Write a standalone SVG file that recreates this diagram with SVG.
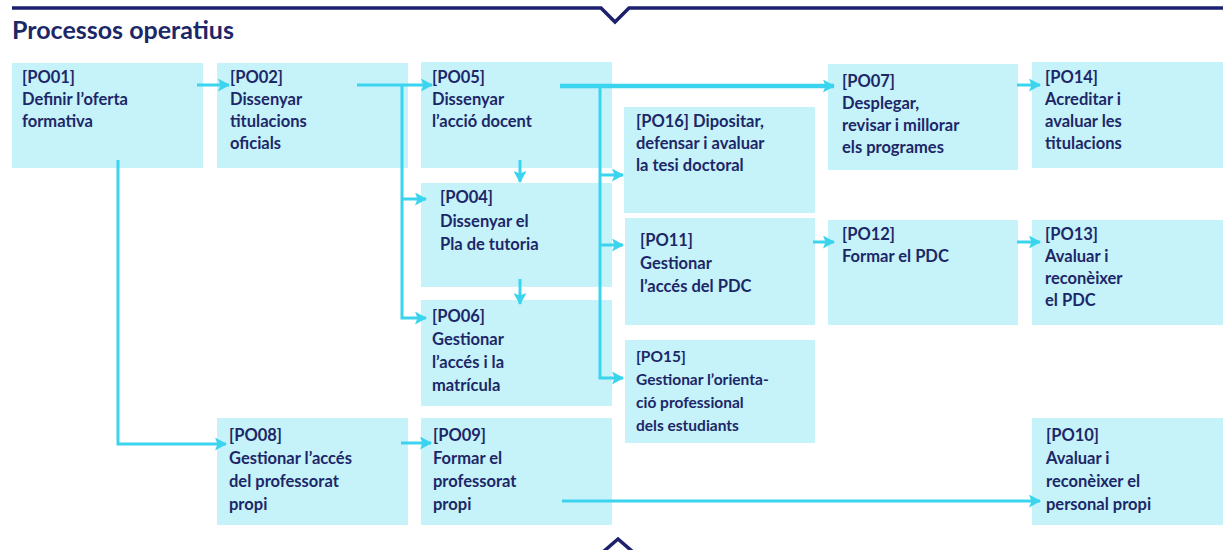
<svg xmlns="http://www.w3.org/2000/svg" width="1229" height="550" viewBox="0 0 1229 550">
<style>
.bx{fill:#c6f2fa}
.t{font-family:Lato,"Liberation Sans",sans-serif;font-weight:bold;font-size:16.5px;fill:#1c2768}
.s{font-size:15.5px}
.ttl{font-family:Lato,"Liberation Sans",sans-serif;font-weight:bold;font-size:25px;fill:#1c2768}
.c{fill:none;stroke:#3ad4ee;stroke-width:3}
.ck{fill:none;stroke:#3ad4ee;stroke-width:4.5}
.nv{fill:none;stroke:#1c206e;stroke-width:3.5}
</style>
<defs>
<marker id="ah" markerUnits="userSpaceOnUse" markerWidth="12" markerHeight="13" refX="11" refY="6.5" orient="auto">
<path d="M0,0 L12,6.5 L0,13 L2.5,6.5 z" fill="#3ad4ee"/>
</marker>
</defs>
<rect width="1229" height="550" fill="#ffffff"/>
<polyline class="nv" points="12,8 601,8 615,22 629,8 1223,8"/>
<polyline class="nv" points="603,552 618,539 633,552"/>
<text class="ttl" x="12" y="39">Processos operatius</text>

<g id="PO01"><rect class="bx" x="12" y="63" width="191" height="105"/>
<text class="t" x="22" y="83">[PO01]</text><text class="t" x="22" y="105">Definir l’oferta</text><text class="t" x="22" y="127">formativa</text></g>
<g id="PO02"><rect class="bx" x="217" y="63" width="191" height="105"/>
<text class="t" x="230" y="83">[PO02]</text><text class="t" x="230" y="105">Dissenyar</text><text class="t" x="230" y="127">titulacions</text><text class="t" x="230" y="149">oficials</text></g>
<g id="PO05"><rect class="bx" x="421" y="62" width="191" height="106"/>
<text class="t" x="432" y="83">[PO05]</text><text class="t" x="432" y="105">Dissenyar</text><text class="t" x="432" y="127">l’acció docent</text></g>
<g id="PO07"><rect class="bx" x="828" y="64" width="190" height="106"/>
<text class="t" x="842" y="87">[PO07]</text><text class="t" x="842" y="109">Desplegar,</text><text class="t" x="842" y="131">revisar i millorar</text><text class="t" x="842" y="153">els programes</text></g>
<g id="PO14"><rect class="bx" x="1032" y="62" width="191" height="106"/>
<text class="t" x="1045" y="83">[PO14]</text><text class="t" x="1045" y="105">Acreditar  i</text><text class="t" x="1045" y="127">avaluar  les</text><text class="t" x="1045" y="149">titulacions</text></g>
<g id="PO16"><rect class="bx" x="624" y="107" width="191" height="106"/>
<text class="t" x="636" y="127">[PO16] Dipositar,</text><text class="t" x="636" y="149">defensar i  avaluar</text><text class="t" x="636" y="171">la tesi doctoral</text></g>
<g id="PO04"><rect class="bx" x="421" y="183" width="191" height="104"/>
<text class="t" x="440" y="203">[PO04]</text><text class="t" x="440" y="227">Dissenyar el</text><text class="t" x="440" y="250">Pla de tutoria</text></g>
<g id="PO11"><rect class="bx" x="625" y="218" width="190" height="107"/>
<text class="t" x="640" y="246">[PO11]</text><text class="t" x="640" y="269">Gestionar</text><text class="t" x="640" y="292">l’accés del PDC</text></g>
<g id="PO12"><rect class="bx" x="828" y="220" width="190" height="105"/>
<text class="t" x="842" y="240">[PO12]</text><text class="t" x="842" y="262">Formar el PDC</text></g>
<g id="PO13"><rect class="bx" x="1032" y="220" width="191" height="105"/>
<text class="t" x="1045" y="240">[PO13]</text><text class="t" x="1045" y="262">Avaluar i</text><text class="t" x="1045" y="284">reconèixer</text><text class="t" x="1045" y="306">el PDC</text></g>
<g id="PO06"><rect class="bx" x="421" y="300" width="191" height="106"/>
<text class="t" x="432" y="322">[PO06]</text><text class="t" x="432" y="345">Gestionar</text><text class="t" x="432" y="368">l’accés i la</text><text class="t" x="432" y="391">matrícula</text></g>
<g id="PO15"><rect class="bx" x="625" y="340" width="190" height="103"/>
<text class="t s" x="636" y="362">[PO15]</text><text class="t s" x="636" y="385">Gestionar l’orienta-</text><text class="t s" x="636" y="408">ció professional</text><text class="t s" x="636" y="431">dels estudiants</text></g>
<g id="PO08"><rect class="bx" x="217" y="418" width="191" height="107"/>
<text class="t" x="229" y="441">[PO08]</text><text class="t" x="229" y="464">Gestionar l’accés</text><text class="t" x="229" y="487">del professorat</text><text class="t" x="229" y="510">propi</text></g>
<g id="PO09"><rect class="bx" x="421" y="418" width="191" height="107"/>
<text class="t" x="433" y="441">[PO09]</text><text class="t" x="433" y="464">Formar el</text><text class="t" x="433" y="487">professorat</text><text class="t" x="433" y="510">propi</text></g>
<g id="PO10"><rect class="bx" x="1032" y="418" width="191" height="107"/>
<text class="t" x="1046" y="441">[PO10]</text><text class="t" x="1046" y="464">Avaluar i</text><text class="t" x="1046" y="487">reconèixer el</text><text class="t" x="1046" y="510">personal propi</text></g>

<g id="connectors">
<path class="c" d="M197,85 H229" marker-end="url(#ah)"/>
<path class="c" d="M118,160 V444 H226" marker-end="url(#ah)"/>
<path class="c" d="M357,85 H432" marker-end="url(#ah)"/>
<path class="c" d="M402,85 V318 H426" marker-end="url(#ah)"/>
<path class="c" d="M402,199 H426" marker-end="url(#ah)"/>
<path class="ck" d="M560,86 H834" marker-end="url(#ah)"/>
<path class="c" d="M600,86 V378 H623" marker-end="url(#ah)"/>
<path class="c" d="M600,175 H623" marker-end="url(#ah)"/>
<path class="c" d="M600,245 H623" marker-end="url(#ah)"/>
<path class="c" d="M520,160 V182" marker-end="url(#ah)"/>
<path class="c" d="M520,279 V304" marker-end="url(#ah)"/>
<path class="c" d="M1017,85 H1040" marker-end="url(#ah)"/>
<path class="c" d="M813,242 H834" marker-end="url(#ah)"/>
<path class="c" d="M1017,242 H1040" marker-end="url(#ah)"/>
<path class="c" d="M401,443 H431" marker-end="url(#ah)"/>
<path class="c" d="M562,501 H1040" marker-end="url(#ah)"/>
</g>
</svg>
